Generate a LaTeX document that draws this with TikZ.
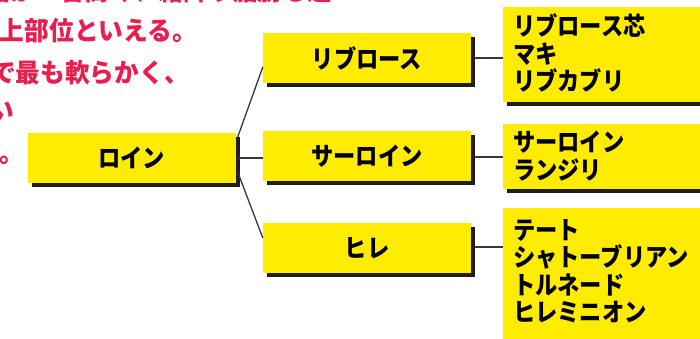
\documentclass[tikz,border=0pt]{standalone}
\usepackage{fontspec}
\newfontfamily\jp{Noto Sans CJK JP}[FakeStretch=0.89]
\newfontfamily\jpred{Noto Sans CJK JP}[FakeStretch=0.95]
\usetikzlibrary{shadows,calc}
\definecolor{boxyellow}{RGB}{255,236,0}
\definecolor{redtext}{RGB}{232,30,78}
\definecolor{shadowgray}{RGB}{30,30,30}
\definecolor{linegray}{RGB}{55,55,55}
\tikzset{
  ybox/.style={fill=boxyellow, inner sep=0pt,
    drop shadow={shadow xshift=4pt, shadow yshift=-4pt, fill=shadowgray, opacity=1}},
  mainbox/.style={ybox, minimum width=208pt, minimum height=50pt,
    font=\jp\bfseries\fontsize{25}{28}\selectfont},
  sidebox/.style={ybox, anchor=north west, minimum width=232pt},
  sidetext/.style={anchor=west, inner sep=0pt, align=left,
    font=\jp\bfseries\fontsize{25}{27.5}\selectfont},
  redline/.style={anchor=east, inner sep=0pt, text=redtext,
    font=\jpred\bfseries\fontsize{26}{26}\selectfont},
  conn/.style={draw=linegray, line width=1.3pt}
}
\begin{document}
\begin{tikzpicture}[x=1pt,y=-1pt]
\useasboundingbox (0,0) rectangle (700,338);
\clip (0,0) rectangle (700,338);
\fill[white] (0,0) rectangle (700,338);
% red text (cut off at the left)
\node[redline] (l1) at (332,-10) {ロースは格が一番高く、霜降り脂肪も適};
\node[redline] (l2) at (197,31) {度に入った最上部位といえる。};
\node[redline] (l3) at (189,73) {牛肉の中で最も軟らかく、};
\node[redline] (l4) at (14,110) {脂肪が少ない};
\node[redline] (l5) at (24,153) {高級部位とされる。};
% main boxes
\node[mainbox] (roin) at (131.5,158) {ロイン};
\node[mainbox] (ribrose) at (367,58) {リブロース};
\node[mainbox] (saroin) at (367,156) {サーロイン};
\node[mainbox] (hire) at (367,248) {ヒレ};
% side boxes
\node[sidebox, minimum height=95pt] (r1) at (503,7) {};
\node[sidebox, minimum height=65pt] (r2) at (503,124) {};
\node[sidebox, minimum height=145pt] (r3) at (503,208) {};
\node[sidetext] (t1) at (513,53) {リブロース芯\\マキ\\リブカブリ};
\node[sidetext] (t2) at (513,156) {サーロイン\\ランジリ};
\node[sidetext] (t3) at (513,271) {テート\\シャトーブリアン\\トルネード\\ヒレミニオン};
% connectors
\draw[conn] ($(roin.east)+(2,-21)$) -- ($(ribrose.west)+(0,9)$);
\draw[conn] ($(roin.east)+(2,0)$) -- (saroin.west |- roin.east);
\draw[conn] ($(roin.east)+(2,14)$) -- ($(hire.west)+(0,-10)$);
\draw[conn] ($(ribrose.east)+(4,0)$) -- (r1.west |- ribrose.east);
\draw[conn] ($(saroin.east)+(4,1)$) -- ($(r2.west |- saroin.east)+(0,1)$);
\draw[conn] ($(hire.east)+(4,-1)$) -- ($(r3.west |- hire.east)+(0,-1)$);
\end{tikzpicture}
\end{document}
